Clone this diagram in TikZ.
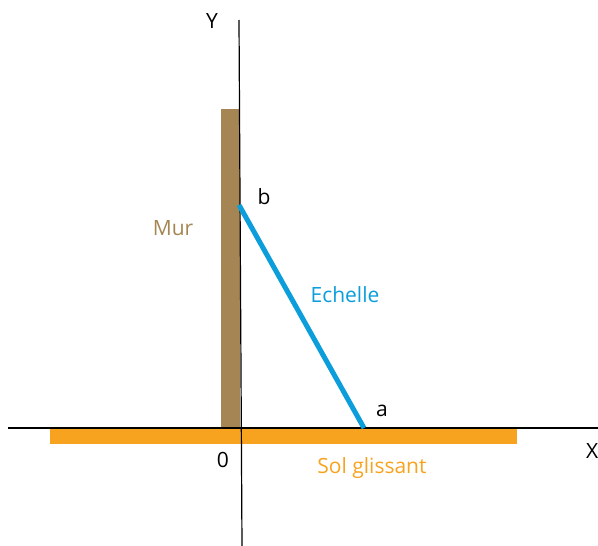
\documentclass[tikz,border=0pt]{standalone}
\usepackage{fontspec}
\setmainfont{Open Sans}
\definecolor{murc}{HTML}{A58553}
\definecolor{solc}{HTML}{F8A31F}
\definecolor{echc}{HTML}{0B9EDB}
\begin{document}
\begin{tikzpicture}[x=1pt,y=-1pt,
  lbl/.style={font=\fontsize{21}{24}\selectfont, inner sep=0pt, anchor=base},
  axis/.style={draw=black, line width=1.2pt},
  wallbox/.style={fill=murc, draw=none},
  floorbox/.style={fill=solc, draw=none},
  ladder/.style={draw=echc, line width=5pt}]
\useasboundingbox (0,0) rectangle (598,546);
% wall and floor
\fill[wallbox] (221,109) rectangle (240,428);
\fill[floorbox] (50,429) rectangle (517,444);
% axes
\coordinate (xl) at (8,428);
\coordinate (xr) at (598,428);
\coordinate (yt) at (239,20);
\coordinate (yb) at (242,546);
\draw[axis] (xl) -- (xr);
\draw[axis] (yt) -- (yb);
% ladder
\coordinate (B) at (239,205);
\coordinate (A) at (364,428);
\draw[ladder] (B) -- (A);
% labels
\node[lbl] (ly) at (212,28) {Y};
\node[lbl, anchor=base west] (lx) at (586,458) {X};
\node[lbl] (l0) at (223,467) {0};
\node[lbl] (lb) at (264,204) {b};
\node[lbl] (la) at (382,416) {a};
\node[lbl, text=murc] (lmur) at (173,235) {Mur};
\node[lbl, text=echc] (lech) at (345,302) {Echelle};
\node[lbl, text=solc] (lsol) at (372,473) {Sol glissant};
\end{tikzpicture}
\end{document}
